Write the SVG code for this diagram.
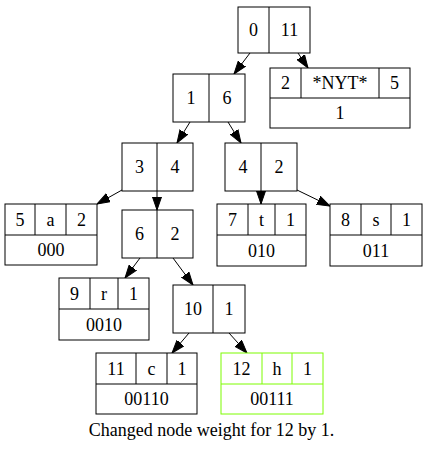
<svg xmlns="http://www.w3.org/2000/svg" width="427" height="452" viewBox="0 0 427 452">
<style>
.b{fill:#fff;stroke:#000;stroke-width:1}
.g{fill:#fff;stroke:#7cfc00;stroke-width:1}
.l{stroke:#000;stroke-width:1;fill:none}
.lg{stroke:#7cfc00;stroke-width:1;fill:none}
text{font-family:"Liberation Serif","Times New Roman",serif;font-size:18px;text-anchor:middle;fill:#000}
.e{stroke:#000;stroke-width:1;fill:none;marker-end:url(#ah)}
</style>
<defs>
<marker id="ah" markerWidth="13" markerHeight="10" refX="13" refY="5" orient="auto" markerUnits="userSpaceOnUse">
<path d="M0,0.5 L13,5 L0,9.5 z" fill="#000" stroke="#000" stroke-width="1"/>
</marker>
</defs>
<rect width="427" height="452" fill="#fff"/>
<g id="edges">
<path class="e" d="M250,53 L234,74"/>
<path class="e" d="M298,53 L308,68"/>
<path class="e" d="M190,122 L177,143"/>
<path class="e" d="M228,122 L241,143"/>
<path class="e" d="M122,190 L97,204"/>
<path class="e" d="M157,191 L157,210"/>
<path class="e" d="M261,191 L261,204"/>
<path class="e" d="M297,190 L330,206"/>
<path class="e" d="M140,258 L125,278"/>
<path class="e" d="M173,258 L193,285"/>
<path class="e" d="M189,333 L172,353"/>
<path class="e" d="M229,333 L247,353"/>
</g>
<g id="n0">
<rect class="b" x="238" y="7" width="72" height="46"/>
<path class="l" d="M269,7 V53"/>
<text x="253.5" y="36">0</text><text x="289.5" y="36">11</text>
</g>
<g id="nyt">
<rect class="b" x="270" y="68" width="140" height="60"/>
<path class="l" d="M270,98 H410 M301,68 V98 M379,68 V98"/>
<text x="285.5" y="89">2</text><text x="340" y="89">*NYT*</text><text x="394.5" y="89">5</text>
<text x="340" y="119">1</text>
</g>
<g id="n1">
<rect class="b" x="173" y="74" width="72" height="48"/>
<path class="l" d="M209,74 V122"/>
<text x="191" y="104">1</text><text x="227" y="104">6</text>
</g>
<g id="n3">
<rect class="b" x="122" y="143" width="71" height="48"/>
<path class="l" d="M157,143 V191"/>
<text x="139.5" y="173">3</text><text x="175" y="173">4</text>
</g>
<g id="n4">
<rect class="b" x="225" y="143" width="72" height="48"/>
<path class="l" d="M261,143 V191"/>
<text x="243" y="173">4</text><text x="279" y="173">2</text>
</g>
<g id="n5">
<rect class="b" x="5" y="204" width="92" height="61"/>
<path class="l" d="M5,235 H97 M35,204 V235 M66,204 V235"/>
<text x="20" y="225.5">5</text><text x="50.5" y="225.5">a</text><text x="81.5" y="225.5">2</text>
<text x="51" y="256">000</text>
</g>
<g id="n6">
<rect class="b" x="122" y="210" width="71" height="48"/>
<path class="l" d="M157,210 V258"/>
<text x="139.5" y="240">6</text><text x="175" y="240">2</text>
</g>
<g id="n7">
<rect class="b" x="217" y="204" width="89" height="62"/>
<path class="l" d="M217,235 H306 M248,204 V235 M275,204 V235"/>
<text x="232.5" y="225.5">7</text><text x="261.5" y="225.5">t</text><text x="290.5" y="225.5">1</text>
<text x="261.5" y="256.5">010</text>
</g>
<g id="n8">
<rect class="b" x="330" y="204" width="92" height="62"/>
<path class="l" d="M330,235 H422 M361,204 V235 M391,204 V235"/>
<text x="345.5" y="225.5">8</text><text x="376" y="225.5">s</text><text x="406.5" y="225.5">1</text>
<text x="376" y="256.5">011</text>
</g>
<g id="n9">
<rect class="b" x="59" y="278" width="90" height="62"/>
<path class="l" d="M59,309 H149 M90,278 V309 M118,278 V309"/>
<text x="74.5" y="299.5">9</text><text x="104" y="299.5">r</text><text x="133.5" y="299.5">1</text>
<text x="104" y="330.5">0010</text>
</g>
<g id="n10">
<rect class="b" x="173" y="285" width="72" height="48"/>
<path class="l" d="M213,285 V333"/>
<text x="193" y="315">10</text><text x="229" y="315">1</text>
</g>
<g id="n11">
<rect class="b" x="96" y="353" width="101" height="61"/>
<path class="l" d="M96,384 H197 M136,353 V384 M167,353 V384"/>
<text x="116" y="374.5">11</text><text x="151.5" y="374.5">c</text><text x="182" y="374.5">1</text>
<text x="146.5" y="405">00110</text>
</g>
<g id="n12">
<rect class="g" x="221" y="353" width="102" height="61"/>
<path class="lg" d="M221,384 H323 M262,353 V384 M292,353 V384"/>
<text x="241.5" y="374.5">12</text><text x="277" y="374.5">h</text><text x="307.5" y="374.5">1</text>
<text x="272" y="405">00111</text>
</g>
<text x="211.5" y="436">Changed node weight for 12 by 1.</text>
</svg>
